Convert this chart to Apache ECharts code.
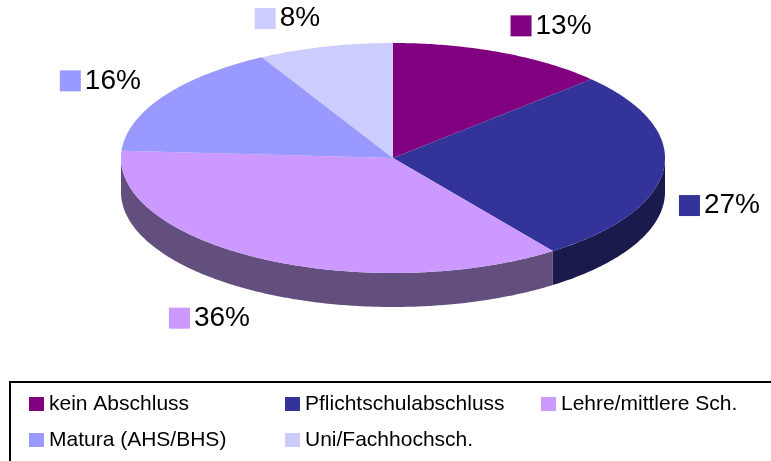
<!DOCTYPE html>
<html>
<head>
<meta charset="utf-8">
<script src="https://cdn.jsdelivr.net/npm/echarts@6/dist/echarts.min.js"></script>
<style>
html, body { margin: 0; padding: 0; background: #fff; }
#chart { width: 771px; height: 461px; }
</style>
</head>
<body>
<div id="chart"></div>
<script>
// Daten
const kategorien = ['kein Abschluss', 'Pflichtschulabschluss', 'Lehre/mittlere Sch.', 'Matura (AHS/BHS)', 'Uni/Fachhochsch.'];
const anteile = [13, 27, 36, 16, 8];

// Farben (Oberseite / Seitenwand)
const farben = ['#800080', '#333399', '#CC99FF', '#9999FF', '#CCCCFF'];
const seitenFarben = ['#400040', '#1a1a4c', '#634f7e', '#4c4c80', '#666680'];

const schrift = "'Liberation Sans', Arial, sans-serif";

// Geometrie der gekippten Torte
const cx = 393, cy = 158, rx = 272, ry = 115, tiefe = 34;
const summe = anteile.reduce((a, b) => a + b, 0);
const startwerte = [];
let acc = 0;
anteile.forEach(v => { startwerte.push(acc); acc += v; });

const messCtx = document.createElement('canvas').getContext('2d');
messCtx.font = "28px " + schrift;

function punkt(theta, dy) {
    return [cx + rx * Math.sin(theta), cy - ry * Math.cos(theta) + (dy || 0)];
}
function bogen(a, b, dy) {
    const n = Math.max(2, Math.ceil((b - a) / 0.01));
    const pts = [];
    for (let i = 0; i <= n; i++) {
        pts.push(punkt(a + (b - a) * i / n, dy));
    }
    return pts;
}

function renderTorte(params, api) {
    const i = params.dataIndex;
    const wert = api.value(0);
    const a = startwerte[i] / summe * Math.PI * 2;
    const b = (startwerte[i] + wert) / summe * Math.PI * 2;
    const kinder = [];

    // sichtbare Seitenwand (vordere Hälfte)
    const fa = Math.max(a, Math.PI / 2), fb = Math.min(b, Math.PI * 1.5);
    if (fb > fa) {
        const oben = bogen(fa, fb, 0);
        const unten = bogen(fa, fb, tiefe).reverse();
        kinder.push({ type: 'polygon', shape: { points: oben.concat(unten) }, style: { fill: seitenFarben[i] } });
    }
    // Oberseite
    kinder.push({ type: 'polygon', shape: { points: [[cx, cy]].concat(bogen(a, b, 0)) }, style: { fill: farben[i] } });

    // Beschriftung: innere Kante am äußeren Ring
    const text = wert + '%';
    const tw = messCtx.measureText(text).width;
    const bw = 21 + 4 + tw;
    const mitte = (a + b) / 2;
    const s = Math.sin(mitte), c = Math.cos(mitte);
    let lx = cx + 301 * s + Math.sign(s) * (bw / 2 - 2);
    let ly = cy - 144 * c + (c < 0 ? tiefe : 0);
    const breite = api.getWidth();
    lx = Math.min(Math.max(lx, bw / 2 + 10), breite - bw / 2 - 11);
    kinder.push({ type: 'rect', shape: { x: lx - bw / 2, y: ly - 10.5, width: 21, height: 21 }, style: { fill: farben[i] } });
    kinder.push({
        type: 'text',
        style: { x: lx - bw / 2 + 25, y: ly, text: text, fill: '#000', font: "28px " + schrift, align: 'left', verticalAlign: 'middle' }
    });
    return { type: 'group', children: kinder };
}

const chart = echarts.init(document.getElementById('chart'));

const legendeStil = {
    fontFamily: schrift,
    fontSize: 21,
    color: '#000',
    width: 206,
    lineHeight: 24,
    padding: [0, 0, 6, 0]
};

const option = {
    animation: false,
    backgroundColor: '#fff',
    legend: [
        {
            data: kategorien.slice(0, 3),
            left: 29, top: 389, padding: 0,
            itemGap: 30, itemWidth: 15, itemHeight: 14,
            icon: 'rect', selectedMode: false,
            textStyle: legendeStil
        },
        {
            data: kategorien.slice(3),
            left: 29, top: 425, padding: 0,
            itemGap: 30, itemWidth: 15, itemHeight: 14,
            icon: 'rect', selectedMode: false,
            textStyle: legendeStil
        }
    ],
    graphic: [
        {
            type: 'rect',
            shape: { x: 10, y: 382, width: 800, height: 120 },
            style: { fill: 'none', stroke: '#000', lineWidth: 2 },
            silent: true
        }
    ],
    series: [
        {
            type: 'custom',
            name: 'Abschluss',
            coordinateSystem: 'none',
            renderItem: renderTorte,
            data: anteile.map((v, i) => ({ name: kategorien[i], value: v }))
        },
        {
            // nur für die Legende
            type: 'pie',
            name: 'Legende',
            center: [-300, -300],
            radius: 1,
            silent: true,
            label: { show: false },
            labelLine: { show: false },
            data: anteile.map((v, i) => ({ name: kategorien[i], value: v, itemStyle: { color: farben[i] } }))
        }
    ]
};

chart.setOption(option);
</script>
</body>
</html>
